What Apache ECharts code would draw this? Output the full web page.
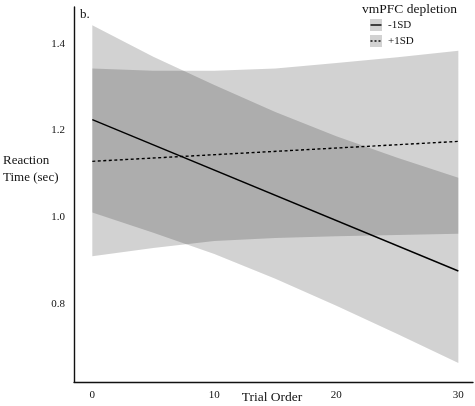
<!DOCTYPE html>
<html>
<head>
<meta charset="utf-8">
<script src="https://cdn.jsdelivr.net/npm/echarts@6/dist/echarts.min.js"></script>
<style>html,body{margin:0;padding:0;background:#fff}#c{width:475px;height:406px}</style>
</head>
<body>
<div id="c"></div>
<script>
// Data
var bandX = [0, 5, 10, 15, 20, 25, 30];
// -1SD (solid line) confidence band
var lowSDLower = [1.011, 0.964, 0.915, 0.858, 0.796, 0.731, 0.664];
var lowSDUpper = [1.443, 1.370, 1.305, 1.243, 1.187, 1.137, 1.091];
// +1SD (dashed line) confidence band
var highSDLower = [0.910, 0.929, 0.945, 0.952, 0.956, 0.959, 0.962];
var highSDUpper = [1.343, 1.338, 1.338, 1.343, 1.356, 1.369, 1.384];
// fitted lines
var lineX = [0, 30];
var lowSDLine = [1.225, 0.876];
var highSDLine = [1.129, 1.175];
var yTicks = [0.8, 1.0, 1.2, 1.4];
var xTicks = [0, 10, 20, 30];
var seriesNames = ['-1SD', '+1SD'];

var FONT = '"Liberation Serif", "DejaVu Serif", serif';

function bandSeries(name, lower, upper) {
  var data = bandX.map(function (x, i) { return [x, lower[i], upper[i]]; });
  return {
    type: 'custom',
    name: name,
    silent: true,
    z: 1,
    data: data,
    encode: { x: 0, y: [1, 2] },
    renderItem: function (params, api) {
      if (params.dataIndex !== 0) return null;
      var pts = [];
      for (var i = 0; i < data.length; i++) pts.push(api.coord([data[i][0], data[i][2]]));
      for (var j = data.length - 1; j >= 0; j--) pts.push(api.coord([data[j][0], data[j][1]]));
      return {
        type: 'polygon',
        shape: { points: pts },
        style: { fill: 'rgba(0,0,0,0.178)', stroke: null }
      };
    }
  };
}

function lineSeries(name, vals, dashed) {
  return {
    type: 'line',
    name: name,
    z: 5,
    symbol: 'none',
    silent: true,
    data: lineX.map(function (x, i) { return [x, vals[i]]; }),
    lineStyle: { color: '#000', width: 1.4, type: dashed ? [3, 2.5] : 'solid' }
  };
}

var chart = echarts.init(document.getElementById('c'), null, { renderer: 'canvas' });
chart.setOption({
  animation: false,
  backgroundColor: '#fff',
  grid: { left: 74, right: 2, top: 7, bottom: 24, containLabel: false },
  xAxis: {
    type: 'value', min: -1.5, max: 31.2, interval: 0.5,
    axisLine: { show: true, onZero: false, lineStyle: { color: '#111', width: 1.4 } },
    axisTick: { show: false },
    splitLine: { show: false },
    axisLabel: {
      margin: 8, color: '#111', fontFamily: FONT, fontSize: 11,
      showMinLabel: true, showMaxLabel: false,
      formatter: function (v) {
        for (var i = 0; i < xTicks.length; i++) if (Math.abs(v - xTicks[i]) < 1e-6) return String(xTicks[i]);
        return '';
      }
    }
  },
  yAxis: {
    type: 'value', min: 0.62, max: 1.485, interval: 0.02,
    axisLine: { show: true, onZero: false, lineStyle: { color: '#111', width: 1.4 } },
    axisTick: { show: false },
    splitLine: { show: false },
    axisLabel: {
      margin: 9, color: '#111', fontFamily: FONT, fontSize: 11,
      showMaxLabel: false,
      formatter: function (v) {
        for (var i = 0; i < yTicks.length; i++) if (Math.abs(v - yTicks[i]) < 1e-6) return yTicks[i].toFixed(1);
        return '';
      }
    }
  },
  series: [
    bandSeries(seriesNames[0] + ' band', lowSDLower, lowSDUpper),
    bandSeries(seriesNames[1] + ' band', highSDLower, highSDUpper),
    lineSeries(seriesNames[0], lowSDLine, false),
    lineSeries(seriesNames[1], highSDLine, true)
  ],
  graphic: [
    { type: 'text', left: 80, top: 8, style: { text: 'b.', font: '13px ' + FONT, fill: '#111' } },
    { type: 'text', left: 3, top: 152, style: { text: 'Reaction\nTime (sec)', font: '13px ' + FONT, fill: '#111', lineHeight: 17 } },
    { type: 'text', x: 272, y: 397, style: { text: 'Trial Order', font: '13.5px ' + FONT, fill: '#111', align: 'center', verticalAlign: 'middle' } },
    { type: 'text', x: 362, y: 9, style: { text: 'vmPFC depletion', font: '13.5px ' + FONT, fill: '#111', verticalAlign: 'middle' } },
    { type: 'rect', shape: { x: 370, y: 19, width: 12, height: 12 }, style: { fill: '#d2d2d2' } },
    { type: 'line', shape: { x1: 370.5, y1: 25, x2: 381.5, y2: 25 }, style: { stroke: '#000', lineWidth: 1.4 } },
    { type: 'text', x: 388, y: 25, style: { text: seriesNames[0], font: '11px ' + FONT, fill: '#111', verticalAlign: 'middle' } },
    { type: 'rect', shape: { x: 370, y: 35, width: 12, height: 12 }, style: { fill: '#d2d2d2' } },
    { type: 'line', shape: { x1: 370.5, y1: 41, x2: 381.5, y2: 41 }, style: { stroke: '#000', lineWidth: 1.4, lineDash: [2, 2] } },
    { type: 'text', x: 388, y: 41, style: { text: seriesNames[1], font: '11px ' + FONT, fill: '#111', verticalAlign: 'middle' } }
  ]
});
</script>
</body>
</html>
